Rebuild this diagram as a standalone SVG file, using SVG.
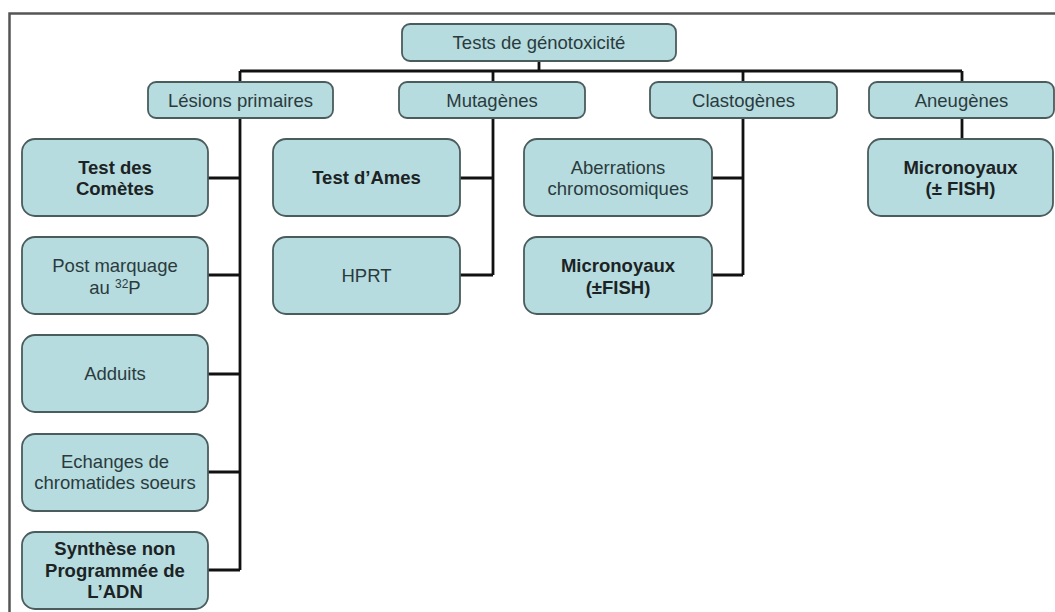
<svg xmlns="http://www.w3.org/2000/svg" width="1055" height="612" viewBox="0 0 1055 612">
<style>
.box{fill:#b6dcdf;stroke:#4b5c5d;stroke-width:1.8}
.t{font-family:"Liberation Sans",Arial,sans-serif;font-size:18.5px;fill:#2b3b3d;text-anchor:middle}
.b{font-weight:bold;fill:#1c2324}
.c{fill:none;stroke:#111;stroke-width:2.8}
</style>
<rect width="1055" height="612" fill="#fff"/>
<path d="M9.5,640 V13.5 H1080" fill="none" stroke="#555" stroke-width="2.5"/>
<g id="connectors">
<path class="c" d="M539,61 V71 M240,71 H962 M240,71 V82 M493,71 V82 M743,71 V82 M962,71 V82"/>
<path class="c" d="M240,118 V570 M208,178 H240 M208,275 H240 M208,374 H240 M208,472 H240 M208,570 H240"/>
<path class="c" d="M493,118 V275 M460,178 H493 M460,275 H493"/>
<path class="c" d="M743,118 V275 M712,178 H743 M712,275 H743"/>
<path class="c" d="M962,118 V139"/>
</g>
<g id="n-root"><rect class="box" x="402" y="24" width="274" height="37" rx="8"/><text class="t" x="539" y="49">Tests de génotoxicité</text></g>
<g id="n-lesions"><rect class="box" x="148" y="82" width="185" height="36" rx="8"/><text class="t" x="240.5" y="106.5">Lésions primaires</text></g>
<g id="n-mutagenes"><rect class="box" x="399" y="82" width="186" height="36" rx="8"/><text class="t" x="492" y="106.5">Mutagènes</text></g>
<g id="n-clastogenes"><rect class="box" x="650" y="82" width="187" height="36" rx="8"/><text class="t" x="743.5" y="106.5">Clastogènes</text></g>
<g id="n-aneugenes"><rect class="box" x="869" y="82" width="185" height="36" rx="8"/><text class="t" x="961.5" y="106.5">Aneugènes</text></g>
<g id="n-cometes"><rect class="box" x="22" y="139" width="186" height="77" rx="13"/><text class="t b" x="115" y="174">Test des</text><text class="t b" x="115" y="195">Comètes</text></g>
<g id="n-postmarquage"><rect class="box" x="22" y="237" width="186" height="77" rx="13"/><text class="t" x="115" y="272">Post marquage</text><text class="t" x="115" y="294">au <tspan font-size="12" dy="-6">32</tspan><tspan dy="6">P</tspan></text></g>
<g id="n-adduits"><rect class="box" x="22" y="335" width="186" height="77" rx="13"/><text class="t" x="115" y="380">Adduits</text></g>
<g id="n-echanges"><rect class="box" x="22" y="434" width="186" height="77" rx="13"/><text class="t" x="115" y="468">Echanges de</text><text class="t" x="115" y="489">chromatides soeurs</text></g>
<g id="n-synthese"><rect class="box" x="22" y="532" width="186" height="77" rx="13"/><text class="t b" x="115" y="555">Synthèse non</text><text class="t b" x="115" y="577">Programmée de</text><text class="t b" x="115" y="598">L’ADN</text></g>
<g id="n-ames"><rect class="box" x="273" y="139" width="187" height="77" rx="13"/><text class="t b" x="366.5" y="184">Test d’Ames</text></g>
<g id="n-hprt"><rect class="box" x="273" y="237" width="187" height="77" rx="13"/><text class="t" x="366.5" y="282">HPRT</text></g>
<g id="n-aberrations"><rect class="box" x="524" y="139" width="188" height="77" rx="13"/><text class="t" x="618" y="174">Aberrations</text><text class="t" x="618" y="195">chromosomiques</text></g>
<g id="n-micronoyaux1"><rect class="box" x="524" y="237" width="188" height="77" rx="13"/><text class="t b" x="618" y="272">Micronoyaux</text><text class="t b" x="618" y="294">(±FISH)</text></g>
<g id="n-micronoyaux2"><rect class="box" x="868" y="139" width="185" height="77" rx="13"/><text class="t b" x="960.5" y="174">Micronoyaux</text><text class="t b" x="960.5" y="195">(± FISH)</text></g>
</svg>
